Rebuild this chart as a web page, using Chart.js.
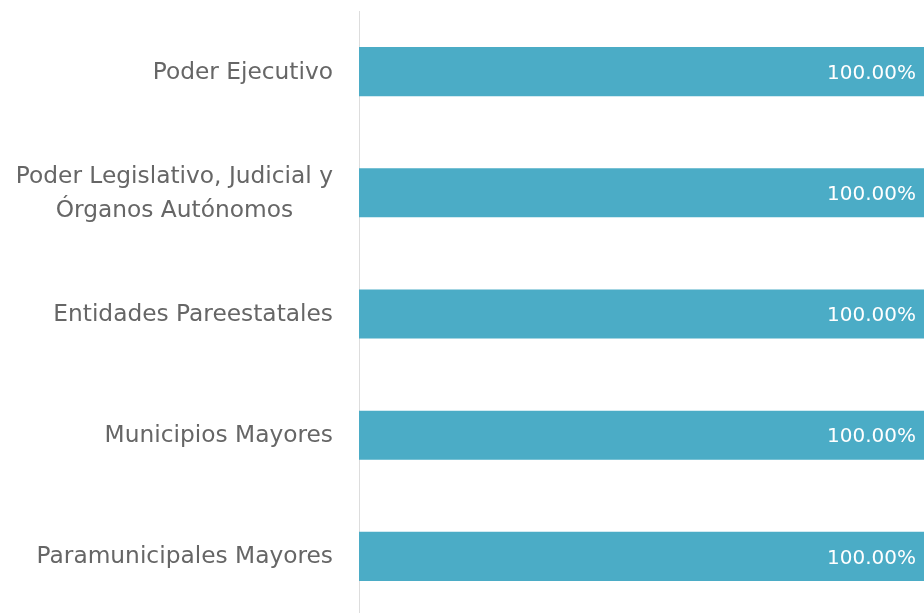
<!DOCTYPE html>
<html>
<head>
<meta charset="utf-8">
<script src="https://cdn.jsdelivr.net/npm/chart.js@4/dist/chart.umd.min.js"></script>
<style>
html,body{margin:0;padding:0;overflow:hidden;background:#fff;}
#wrap{width:924px;height:617px;position:relative;}
</style>
</head>
<body>
<div id="wrap"><canvas id="c"></canvas></div>
<script>
const categories = [
  "Poder Ejecutivo",
  ["Poder Legislativo, Judicial y", "Órganos Autónomos"],
  "Entidades Pareestatales",
  "Municipios Mayores",
  "Paramunicipales Mayores"
];
const values = [100, 100, 100, 100, 100];
const valueLabels = ["100.00%", "100.00%", "100.00%", "100.00%", "100.00%"];

const FONT = "'DejaVu Sans', 'Open Sans', sans-serif";

const labelPlugin = {
  id: 'customLabels',
  afterDatasetsDraw(chart) {
    const ctx = chart.ctx;
    const y = chart.scales.y;
    ctx.save();
    // category labels
    ctx.font = "23.3px " + FONT;
    ctx.fillStyle = '#666666';
    ctx.textBaseline = 'middle';
    ctx.textAlign = 'center';
    const rightX = 333;
    const lh = 34;
    categories.forEach((lab, i) => {
      const lines = Array.isArray(lab) ? lab : [lab];
      const w = Math.max(...lines.map(l => ctx.measureText(l).width));
      const cy = y.getPixelForTick(i) + 1;
      lines.forEach((l, j) => {
        ctx.fillText(l, rightX - w / 2, cy + (j - (lines.length - 1) / 2) * lh);
      });
    });
    // value labels
    ctx.font = "20px " + FONT;
    const meta = chart.getDatasetMeta(0);
    ctx.fillStyle = '#ffffff';
    ctx.textAlign = 'right';
    meta.data.forEach((bar, i) => {
      ctx.fillText(valueLabels[i], bar.x - 8, bar.y + 2);
    });
    ctx.restore();
  }
};

new Chart(document.getElementById('c'), {
  type: 'bar',
  data: {
    labels: categories,
    datasets: [{
      data: values,
      backgroundColor: '#4BACC6',
      borderWidth: 0,
      barPercentage: 0.5,
      categoryPercentage: 0.81
    }]
  },
  options: {
    indexAxis: 'y',
    responsive: true,
    maintainAspectRatio: false,
    animation: false,
    layout: { padding: { top: 11, right: 0, bottom: 0, left: 0 } },
    plugins: { legend: { display: false }, tooltip: { enabled: false } },
    scales: {
      x: { min: 0, max: 100, display: false },
      y: {
        ticks: { display: false },
        grid: { display: false },
        border: { display: true, color: '#dddddd', width: 1 },
        afterFit(scale) { scale.width = 359; }
      }
    }
  },
  plugins: [labelPlugin]
});
</script>
</body>
</html>
